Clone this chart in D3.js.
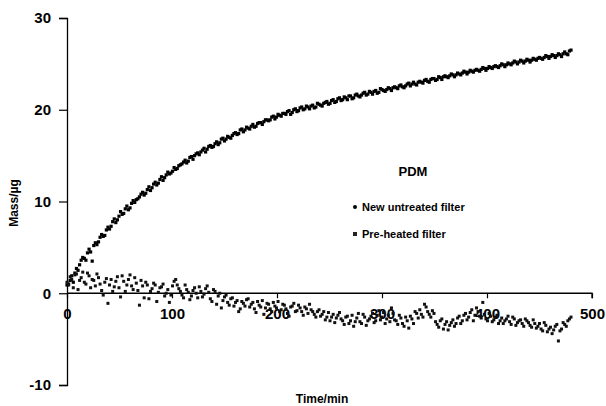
<!DOCTYPE html>
<html>
<head>
<meta charset="utf-8">
<script src="https://cdn.jsdelivr.net/npm/d3@7"></script>
<style>
  html, body { margin: 0; padding: 0; background: #fff; }
  svg { display: block; }
  text { font-family: "Liberation Sans", Arial, sans-serif; font-weight: bold; fill: #000; }
</style>
</head>
<body>
<svg id="chart" width="606" height="406"></svg>
<script>
// ---- data ----
// readings taken at the whole 3-minute marks
const timeMin = [
  0,3,6,9,12,15,18,21,24,27,30,33,36,39,42,45,48,51,54,57,
  60,63,66,69,72,75,78,81,84,87,90,93,96,99,102,105,108,111,114,117,
  120,123,126,129,132,135,138,141,144,147,150,153,156,159,162,165,168,171,174,177,
  180,183,186,189,192,195,198,201,204,207,210,213,216,219,222,225,228,231,234,237,
  240,243,246,249,252,255,258,261,264,267,270,273,276,279,282,285,288,291,294,297,
  300,303,306,309,312,315,318,321,324,327,330,333,336,339,342,345,348,351,354,357,
  360,363,366,369,372,375,378,381,384,387,390,393,396,399,402,405,408,411,414,417,
  420,423,426,429,432,435,438,441,444,447,450,453,456,459,462,465,468,471,474,477,
  480
];
const newUntreated = [
  0.9,1.4,1.2,2.7,3.1,3.9,3.6,4.8,3.5,5.5,5.6,6.4,6.3,7.2,7.3,8.1,8.0,8.9,8.7,9.5,
  9.3,10.1,10.2,10.5,11.0,10.9,11.6,11.5,12.1,12.0,12.7,12.6,13.2,13.1,13.7,13.6,14.0,14.3,14.2,14.8,
  14.6,15.2,15.1,15.6,15.4,16.0,15.9,16.3,16.2,16.8,16.6,17.1,16.9,17.4,17.3,17.8,17.6,18.1,17.9,18.4,
  18.2,18.6,18.4,18.9,18.8,19.2,19.0,19.5,19.3,19.6,19.8,19.5,20.0,19.8,20.2,20.0,20.4,20.1,20.5,20.3,
  20.6,20.4,20.8,20.6,21.0,20.8,21.2,21.0,21.4,21.1,21.5,21.3,21.7,21.4,21.8,21.6,22.0,21.7,22.1,21.9,
  22.2,22.0,22.4,22.1,22.5,22.3,22.7,22.4,22.8,22.6,23.0,22.7,23.1,22.9,23.3,23.0,23.4,23.2,23.6,23.3,
  23.7,23.5,23.9,23.6,24.0,23.8,24.2,23.9,24.3,24.1,24.4,24.2,24.6,24.3,24.7,24.5,24.8,24.6,25.0,24.7,
  25.1,24.9,25.3,25.0,25.4,25.1,25.5,25.2,25.6,25.4,25.7,25.5,25.9,25.6,26.0,25.7,26.1,25.8,26.3,26.0,
  26.5
];
const preHeated = [
  1.2,1.8,0.6,2.1,1.4,2.3,1.0,1.9,1.5,0.8,1.7,0.3,1.2,-1.1,1.5,0.7,1.8,-0.4,1.3,0.9,
  2.0,0.4,1.1,-1.3,0.8,1.2,-0.6,0.5,0.9,0.1,0.7,-0.3,0.4,-0.2,1.3,0.9,0.2,-0.5,0.4,-0.7,
  0.3,0.0,0.7,-0.4,0.5,0.1,-0.9,0.2,-0.3,-1.6,-0.4,-1.0,-0.6,-1.4,-0.8,-1.7,-1.1,-0.7,-1.5,-1.0,
  -2.1,-1.3,-0.8,-1.6,-1.2,-2.0,-1.4,-0.9,-1.8,-1.3,-2.2,-1.5,-1.1,-1.9,-1.6,-2.4,-1.7,-1.2,-2.0,-2.6,
  -1.8,-2.3,-2.9,-2.1,-2.6,-3.2,-2.4,-2.8,-3.4,-2.5,-3.0,-3.6,-2.7,-3.1,-2.3,-3.5,-2.8,-2.2,-3.0,-1.9,
  -2.6,-3.3,-2.4,-1.6,-2.9,-3.4,-2.7,-3.6,-3.0,-2.5,-3.3,-2.2,-1.8,-2.6,-1.5,-2.3,-1.9,-3.1,-3.7,-2.8,
  -3.4,-4.0,-3.2,-3.6,-2.7,-3.3,-2.4,-2.9,-2.1,-3.0,-1.6,-2.5,-1.0,-2.8,-2.2,-3.1,-2.6,-3.3,-2.7,-3.0,
  -2.5,-3.4,-2.8,-3.2,-2.9,-3.6,-3.0,-3.5,-2.9,-3.8,-3.3,-4.1,-3.5,-3.9,-4.4,-3.6,-5.2,-3.9,-3.4,-3.0,
  -2.6
];
// readings taken half-way between the 3-minute marks
const timeMinB = [
  1.5,4.5,7.5,10.5,13.5,16.5,19.5,22.5,25.5,28.5,31.5,34.5,37.5,40.5,43.5,46.5,49.5,52.5,55.5,58.5,
  61.5,64.5,67.5,70.5,73.5,76.5,79.5,82.5,85.5,88.5,91.5,94.5,97.5,100.5,103.5,106.5,109.5,112.5,115.5,118.5,
  121.5,124.5,127.5,130.5,133.5,136.5,139.5,142.5,145.5,148.5,151.5,154.5,157.5,160.5,163.5,166.5,169.5,172.5,175.5,178.5,
  181.5,184.5,187.5,190.5,193.5,196.5,199.5,202.5,205.5,208.5,211.5,214.5,217.5,220.5,223.5,226.5,229.5,232.5,235.5,238.5,
  241.5,244.5,247.5,250.5,253.5,256.5,259.5,262.5,265.5,268.5,271.5,274.5,277.5,280.5,283.5,286.5,289.5,292.5,295.5,298.5,
  301.5,304.5,307.5,310.5,313.5,316.5,319.5,322.5,325.5,328.5,331.5,334.5,337.5,340.5,343.5,346.5,349.5,352.5,355.5,358.5,
  361.5,364.5,367.5,370.5,373.5,376.5,379.5,382.5,385.5,388.5,391.5,394.5,397.5,400.5,403.5,406.5,409.5,412.5,415.5,418.5,
  421.5,424.5,427.5,430.5,433.5,436.5,439.5,442.5,445.5,448.5,451.5,454.5,457.5,460.5,463.5,466.5,469.5,472.5,475.5,478.5
];
const newUntreatedB = [
  1.0,1.9,2.2,2.5,3.6,3.8,4.4,4.5,5.2,5.3,6.1,6.2,6.9,7.0,7.8,7.7,8.4,8.6,9.2,9.1,
  9.8,9.9,10.3,10.8,10.7,11.3,11.2,11.9,11.8,12.4,12.3,12.9,13.0,13.3,13.5,13.9,14.1,14.5,14.4,14.9,
  15.0,15.3,15.4,15.8,15.7,16.1,16.0,16.5,16.4,16.9,16.8,17.0,17.2,17.5,17.4,17.9,17.8,18.0,18.2,18.1,
  18.5,18.6,18.7,18.9,18.9,19.3,19.2,19.4,19.6,19.5,19.9,19.7,20.1,19.9,20.3,20.1,20.3,20.4,20.2,20.7,
  20.5,20.7,20.9,20.7,21.1,20.9,21.3,21.1,21.3,21.5,21.2,21.6,21.5,21.6,21.9,21.7,21.9,22.0,21.8,22.3,
  22.1,22.2,22.3,22.4,22.4,22.6,22.5,22.6,22.9,22.8,22.8,23.0,23.0,23.2,23.1,23.3,23.4,23.3,23.5,23.6,
  23.6,23.7,23.8,23.8,23.9,24.0,24.1,24.1,24.2,24.3,24.3,24.4,24.5,24.5,24.6,24.7,24.7,24.8,24.9,24.9,
  25.0,25.1,25.2,25.2,25.3,25.3,25.4,25.4,25.5,25.6,25.6,25.7,25.8,25.8,25.9,25.9,26.0,26.1,26.1,26.4
];
const preHeatedB = [
  0.9,1.5,2.0,0.4,1.7,1.2,2.2,0.6,1.4,2.1,1.0,-0.2,1.6,0.9,0.2,1.3,0.6,1.9,0.2,1.5,
  0.8,1.7,0.3,1.4,-0.5,0.9,0.2,1.1,-0.9,0.6,1.0,0.0,-1.0,0.8,1.5,0.5,-0.2,0.9,0.1,-0.3,
  0.6,-0.5,0.2,-0.1,0.8,-0.6,0.4,-1.2,0.0,-0.8,-0.2,-1.3,-0.5,-1.0,-2.0,-0.9,-1.4,-0.6,-1.2,-1.7,
  -0.9,-1.5,-2.3,-1.1,-1.7,-1.0,-1.6,-2.0,-1.2,-1.7,-2.5,-1.4,-2.0,-1.3,-2.0,-1.5,-2.2,-1.8,-2.3,-2.0,
  -2.5,-2.0,-2.6,-3.0,-2.3,-2.7,-2.1,-3.0,-2.6,-3.3,-2.4,-3.1,-2.2,-3.3,-2.6,-3.0,-2.5,-3.2,-2.4,-2.9,
  -2.1,-2.8,-3.1,-2.2,-3.0,-2.4,-3.3,-2.6,-3.8,-2.8,-2.0,-2.7,-2.3,-1.2,-2.0,-2.6,-2.2,-3.4,-3.0,-3.9,
  -3.1,-3.5,-2.9,-3.3,-2.5,-3.0,-2.2,-2.6,-1.8,-2.4,-2.0,-2.7,-2.3,-3.0,-2.5,-2.9,-2.4,-3.0,-3.3,-2.8,
  -3.1,-2.6,-3.5,-3.0,-3.3,-2.8,-3.2,-3.7,-3.3,-3.6,-3.9,-3.2,-4.2,-3.7,-4.0,-3.4,-4.1,-3.2,-3.6,-2.8
];
const xTicks = [0, 100, 200, 300, 400, 500];
const yTicks = [-10, 0, 10, 20, 30];
const seriesNames = ["New untreated filter", "Pre-heated filter"];
const chartTitle = "PDM";
const xTitle = "Time/min";
const yTitle = "Mass/\u00b5g";

// ---- drawing ----
const svg = d3.select("#chart");
const x = d3.scaleLinear().domain([0, 500]).range([67, 592]);
const y = d3.scaleLinear().domain([-10, 30]).range([385, 18]);
const fmt = d => String(d);

// x axis on y=0
const xAxis = d3.axisBottom(x).tickValues(xTicks).tickSize(5).tickPadding(10).tickFormat(fmt);
const gx = svg.append("g").attr("transform", `translate(0,${y(0)})`).call(xAxis);
gx.select(".domain").attr("stroke", "#000").attr("stroke-width", 1.3).attr("d", `M${x(0)},0H${x(500)}V5`);
gx.selectAll(".tick line").attr("stroke", "#000").attr("stroke-width", 1.2);
gx.selectAll(".tick text").style("font-size", "15px").attr("font-family", "Liberation Sans, Arial, sans-serif").attr("font-weight", "bold").attr("fill", "#000");

// y axis
const yAxis = d3.axisLeft(y).tickValues(yTicks).tickSize(8).tickPadding(8).tickFormat(fmt);
const gy = svg.append("g").attr("transform", `translate(${x(0)},0)`).call(yAxis);
gy.select(".domain").attr("stroke", "#000").attr("stroke-width", 1.3);
gy.selectAll(".tick line").attr("stroke", "#000").attr("stroke-width", 1.2);
gy.selectAll(".tick text").style("font-size", "15px").attr("font-family", "Liberation Sans, Arial, sans-serif").attr("font-weight", "bold").attr("fill", "#000");

// series points
const dataU = timeMin.map((t, i) => ({ t, v: newUntreated[i] }))
  .concat(timeMinB.map((t, i) => ({ t, v: newUntreatedB[i] })));
const dataP = timeMin.map((t, i) => ({ t, v: preHeated[i] }))
  .concat(timeMinB.map((t, i) => ({ t, v: preHeatedB[i] })));
svg.append("g").selectAll("rect").data(dataU).join("rect")
  .attr("x", d => x(d.t) - 1.6).attr("y", d => y(d.v) - 1.6)
  .attr("width", 3.2).attr("height", 3.2).attr("fill", "#000");
svg.append("g").selectAll("rect").data(dataP).join("rect")
  .attr("x", d => x(d.t) - 1.5).attr("y", d => y(d.v) - 1.5)
  .attr("width", 3).attr("height", 3).attr("fill", "#111");

// titles
svg.append("text").attr("x", 322).attr("y", 403).attr("text-anchor", "middle").style("font-size", "12px").text(xTitle);
svg.append("text").attr("transform", "translate(18,203) rotate(-90)").attr("text-anchor", "middle").style("font-size", "12px").text(yTitle);

// legend
svg.append("text").attr("x", 413).attr("y", 176).attr("text-anchor", "middle").style("font-size", "13px").text(chartTitle);
svg.append("circle").attr("cx", 355).attr("cy", 207).attr("r", 2).attr("fill", "#000");
svg.append("text").attr("x", 362).attr("y", 211).style("font-size", "11px").text(seriesNames[0]);
svg.append("rect").attr("x", 353).attr("y", 232).attr("width", 4).attr("height", 4).attr("fill", "#222");
svg.append("text").attr("x", 362).attr("y", 238).style("font-size", "11px").text(seriesNames[1]);
</script>
</body>
</html>
